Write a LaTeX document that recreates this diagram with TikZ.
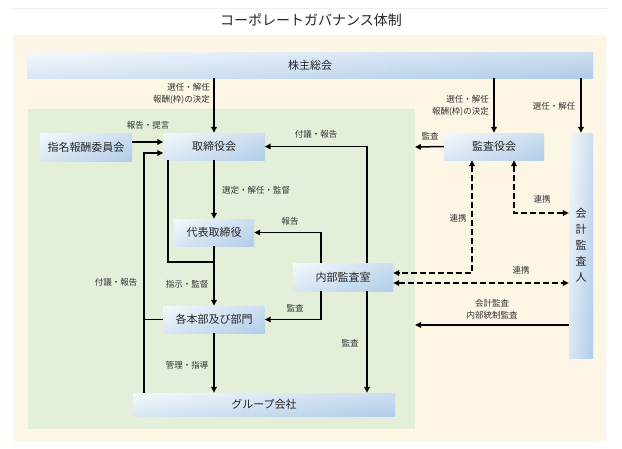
\documentclass[tikz,border=0pt]{standalone}
\usepackage{fontspec}
\setmainfont{Noto Sans CJK JP}
\usetikzlibrary{arrows.meta}
\definecolor{cream}{HTML}{FDF6E4}
\definecolor{greenbg}{HTML}{E3EFD9}
\definecolor{boxL}{HTML}{EFF5FB}
\definecolor{boxR}{HTML}{B1CDE9}
\definecolor{topline}{HTML}{EEEEEE}
\tikzset{
  box/.style={inner sep=0pt, minimum height=27pt, left color=boxL, right color=boxR,
    font=\fontsize{11}{16}\selectfont, text=black!85,
    path picture={\shade[top color=white, bottom color=boxR, fill opacity=0.35]
      (path picture bounding box.south west) rectangle (path picture bounding box.north east);}},
  lab/.style={font=\fontsize{8.5}{12}\selectfont, text=black!80, inner sep=0pt},
  >={Triangle[length=6pt,width=5.5pt]},
  conn/.style={line width=1.5pt},
  arr/.style={conn, ->},
  darr/.style={conn, <->, dash pattern=on 6pt off 3pt},
}
\begin{document}
\begin{tikzpicture}[x=1pt,y=-1pt]
\useasboundingbox (0,0) rectangle (622,448);
\fill[white] (0,0) rectangle (622,448);
\draw[topline, line width=1pt] (12,8) -- (607,8);
\node[font=\fontsize{14}{16}\selectfont, text=black!85] (title) at (311,20) {コーポレートガバナンス体制};
\fill[cream] (13,35) rectangle (606,441);
\fill[greenbg] (28,109) rectangle (415,429);

% boxes
\node[box, minimum width=566pt, minimum height=26pt] (kabu) at (310,65) {株主総会};
\node[box, minimum width=101pt] (tori) at (214,146.5) {取締役会};
\node[box, minimum width=92pt, minimum height=28pt] (shimei) at (86,147) {指名報酬委員会};
\node[box, minimum width=100pt] (kansa) at (494,146.5) {監査役会};
\node[box, minimum width=24pt, minimum height=225pt, align=center] (kaikei) at (581,245.5) {会\\計\\監\\査\\人};
\node[box, minimum width=80pt] (daihyo) at (214,232.5) {代表取締役};
\node[box, minimum width=101pt] (honbu) at (214,319.5) {各本部及び部門};
\node[box, minimum width=100pt, minimum height=28pt] (naibu) at (343,277) {内部監査室};
\node[box, minimum width=262pt, minimum height=23pt] (group) at (264,404.5) {グループ会社};

\coordinate (greenR1) at (415,147);
\coordinate (greenR2) at (415,325);

% connectors from 株主総会
\draw[arr] (tori.north |- kabu.south) -- (tori.north);
\draw[arr] (kansa.north |- kabu.south) -- (kansa.north);
\draw[arr] (kaikei.north |- kabu.south) -- (kaikei.north);

% 指名報酬委員会 -> 取締役会
\draw[arr] (shimei.east |- 0,142) -- (tori.west |- 0,142);
% 付議・報告 (left loop)
\draw[arr] (group.north -| 144,0) -- (144,153) -- (tori.west |- 0,153);
\draw[conn] (honbu.west) -- (honbu.west -| 144,0);

% 取締役会 -> 代表取締役 -> 各本部 -> グループ
\draw[arr] (tori.south) -- (daihyo.north);
\draw[conn] (tori.south -| 168,0) |- (daihyo.south |- 0,262);
\draw[arr] (daihyo.south) -- (honbu.north);
\draw[arr] (honbu.south) -- (group.north -| honbu.south);

% 内部監査室
\draw[arr] (naibu.north -| 321,0) |- (daihyo.east);
\draw[arr] (naibu.south -| 321,0) |- (honbu.east);
\draw[arr] (naibu.north -| 367,0) |- (tori.east);
\draw[arr] (naibu.south -| 367,0) -- (group.north -| 367,0);

% 監査役会
\draw[arr] (kansa.west) -- (greenR1);
\draw[darr] (kansa.south -| 472,0) |- (naibu.east |- 0,273);
\draw[darr] (kansa.south -| 514,0) |- (kaikei.west |- 0,213);
\draw[darr] (naibu.east |- 0,283) -- (kaikei.west |- 0,283);
\draw[arr] (kaikei.west |- 0,325) -- (greenR2);

% labels
\node[lab, anchor=east, align=right] (l1) at (210,94) {選任・解任\\報酬(枠)の決定};
\node[lab, anchor=east, align=right] (l2) at (489,106) {選任・解任\\報酬(枠)の決定};
\node[lab] (l3) at (554,106) {選任・解任};
\node[lab] (l4) at (148,125) {報告・提言};
\node[lab] (l5) at (316,134) {付議・報告};
\node[lab] (l6) at (430,136) {監査};
\node[lab, anchor=west] (l7) at (222,190) {選定・解任・監督};
\node[lab] (l8) at (290,221) {報告};
\node[lab] (l9) at (458,218) {連携};
\node[lab] (l10) at (542,199) {連携};
\node[lab] (l11) at (521,270) {連携};
\node[lab] (l12) at (116,282) {付議・報告};
\node[lab] (l13) at (187,284) {指示・監督};
\node[lab] (l14) at (295,308) {監査};
\node[lab, align=center] (l15) at (492,309) {会計監査\\内部統制監査};
\node[lab] (l16) at (350,343) {監査};
\node[lab] (l17) at (187,365) {管理・指導};
\end{tikzpicture}
\end{document}
